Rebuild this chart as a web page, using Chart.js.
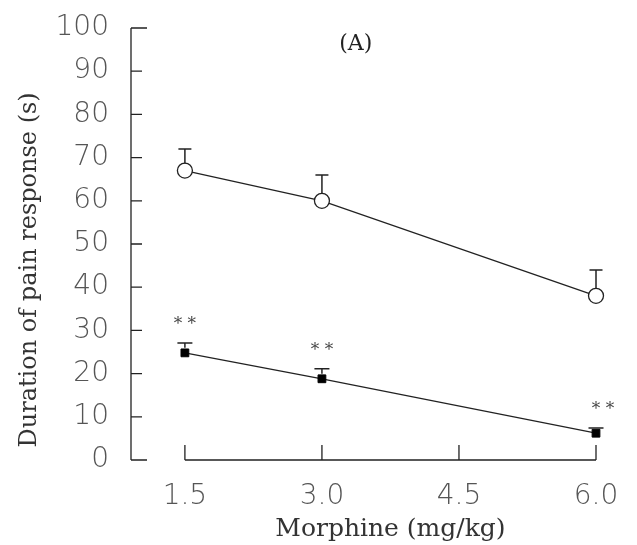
<!DOCTYPE html>
<html>
<head>
<meta charset="utf-8">
<script src="https://cdn.jsdelivr.net/npm/chart.js@4/dist/chart.umd.min.js"></script>
<style>
  html, body { margin: 0; padding: 0; background: #fff; }
  #wrap { width: 637px; height: 545px; }
</style>
</head>
<body>
<div id="wrap"><canvas id="c" width="637" height="545"></canvas></div>
<script>
// ---- data ----
const xTicks = [1.5, 3.0, 4.5, 6.0];
const yTicks = [0, 10, 20, 30, 40, 50, 60, 70, 80, 90, 100];
const morphineDoses = [1.5, 3.0, 6.0];
const controlMean = [67, 60, 38];
const controlErr = [5, 6, 6];
const treatedMean = [24.8, 18.8, 6.2];
const treatedErr = [2.3, 2.3, 1.2];
const treatedSig = ['**', '**', '**'];
const panelLabel = '(A)';
const xTitle = 'Morphine (mg/kg)';
const yTitle = 'Duration of pain response (s)';

const ink = '#222';
const tickFont = "'DejaVu Sans', sans-serif";
const serif = "'DejaVu Serif', 'Liberation Serif', serif";

const toPts = (xs, ys) => xs.map((x, i) => ({ x: x, y: ys[i] }));

const axesPlugin = {
  id: 'axesPlugin',
  afterDatasetsDraw(chart) {
    const ctx = chart.ctx;
    const xs = chart.scales.x, ys = chart.scales.y;
    const ca = chart.chartArea;
    ctx.save();
    ctx.strokeStyle = ink;
    ctx.lineWidth = 1.3;
    // y axis
    const yAxisX = ca.left;
    ctx.beginPath();
    ctx.moveTo(yAxisX, ys.getPixelForValue(0));
    ctx.lineTo(yAxisX, ys.getPixelForValue(100));
    yTicks.forEach(v => {
      const py = ys.getPixelForValue(v);
      ctx.moveTo(yAxisX, py);
      ctx.lineTo(yAxisX + ((v === 0 || v === 100) ? 16 : 11), py);
    });
    ctx.stroke();
    // x axis
    const base = ys.getPixelForValue(0);
    ctx.beginPath();
    ctx.moveTo(xs.getPixelForValue(xTicks[0]), base);
    ctx.lineTo(xs.getPixelForValue(xTicks[xTicks.length - 1]), base);
    xTicks.forEach(v => {
      const px = xs.getPixelForValue(v);
      ctx.moveTo(px, base);
      ctx.lineTo(px, base - 15);
    });
    ctx.stroke();

    // error bars (upper only)
    const drawErr = (means, errs, cap, offset) => {
      ctx.beginPath();
      morphineDoses.forEach((d, i) => {
        const px = xs.getPixelForValue(d);
        const p0 = ys.getPixelForValue(means[i]) - offset;
        const p1 = ys.getPixelForValue(means[i] + errs[i]);
        if (p1 < p0) {
          ctx.moveTo(px, p0);
          ctx.lineTo(px, p1);
          ctx.moveTo(px - cap / 2, p1);
          ctx.lineTo(px + cap / 2, p1);
        }
      });
      ctx.stroke();
    };
    ctx.lineWidth = 1.5;
    drawErr(controlMean, controlErr, 13, 7);
    drawErr(treatedMean, treatedErr, 15, 5);

    // significance marks
    ctx.fillStyle = '#444';
    ctx.font = "17px " + serif;
    ctx.textAlign = 'center';
    ctx.textBaseline = 'middle';
    morphineDoses.forEach((d, i) => {
      const px = xs.getPixelForValue(d) + (i === morphineDoses.length - 1 ? 7 : 0);
      const py = ys.getPixelForValue(treatedMean[i] + treatedErr[i]) - 18;
      ctx.fillText(treatedSig[i].split('').join(' '), px, py);
    });

    // panel label
    ctx.fillStyle = '#222';
    ctx.font = "22px " + serif;
    ctx.fillText(panelLabel, xs.getPixelForValue(3.37), ys.getPixelForValue(96.3));

    // x title centred under the x axis line
    ctx.font = "25px " + serif;
    ctx.fillStyle = '#333';
    ctx.textBaseline = 'middle';
    ctx.fillText(xTitle, (xs.getPixelForValue(xTicks[0]) + xs.getPixelForValue(xTicks[xTicks.length - 1])) / 2, 529);

    // y title
    ctx.save();
    ctx.translate(30, ys.getPixelForValue(44));
    ctx.rotate(-Math.PI / 2);
    ctx.font = "24px " + serif;
    ctx.fillText(yTitle, 0, 0);
    ctx.restore();
    ctx.restore();
  }
};

new Chart(document.getElementById('c'), {
  type: 'line',
  data: {
    datasets: [
      {
        label: 'Control',
        data: toPts(morphineDoses, controlMean),
        borderColor: ink,
        borderWidth: 1.3,
        pointStyle: 'circle',
        pointRadius: 7.5,
        pointBackgroundColor: '#fff',
        pointBorderColor: ink,
        pointBorderWidth: 1.3,
        clip: false,
        tension: 0
      },
      {
        label: 'Treated',
        data: toPts(morphineDoses, treatedMean),
        borderColor: ink,
        borderWidth: 1.3,
        pointStyle: 'rect',
        pointRadius: 5.5,
        pointBackgroundColor: '#000',
        pointBorderColor: '#000',
        pointBorderWidth: 1,
        clip: false,
        tension: 0
      }
    ]
  },
  options: {
    responsive: false,
    animation: false,
    devicePixelRatio: 1,
    layout: { padding: { top: 28, right: 41, left: 0, bottom: 0 } },
    plugins: { legend: { display: false }, tooltip: { enabled: false } },
    scales: {
      x: {
        type: 'linear',
        min: 0.91,
        max: 6.0,
        grid: { display: false, drawTicks: false },
        border: { display: false },
        afterBuildTicks: s => { s.ticks = xTicks.map(v => ({ value: v })); },
        afterFit: s => { s.height = 85; s.paddingLeft = 0; s.paddingRight = 0; },
        ticks: {
          padding: 20,
          color: '#555',
          font: { family: tickFont, size: 28, weight: '300' },
          callback: v => Number(v).toFixed(1)
        }
      },
      y: {
        min: 0,
        max: 100,
        grid: { display: false, drawTicks: false },
        border: { display: false },
        afterBuildTicks: s => { s.ticks = yTicks.map(v => ({ value: v })); },
        afterFit: s => { s.width = 131; s.paddingTop = 0; s.paddingBottom = 0; },
        ticks: {
          padding: 22,
          color: '#555',
          font: { family: tickFont, size: 28, weight: '300' }
        },
        title: { display: false }
      }
    }
  },
  plugins: [axesPlugin]
});
</script>
</body>
</html>
